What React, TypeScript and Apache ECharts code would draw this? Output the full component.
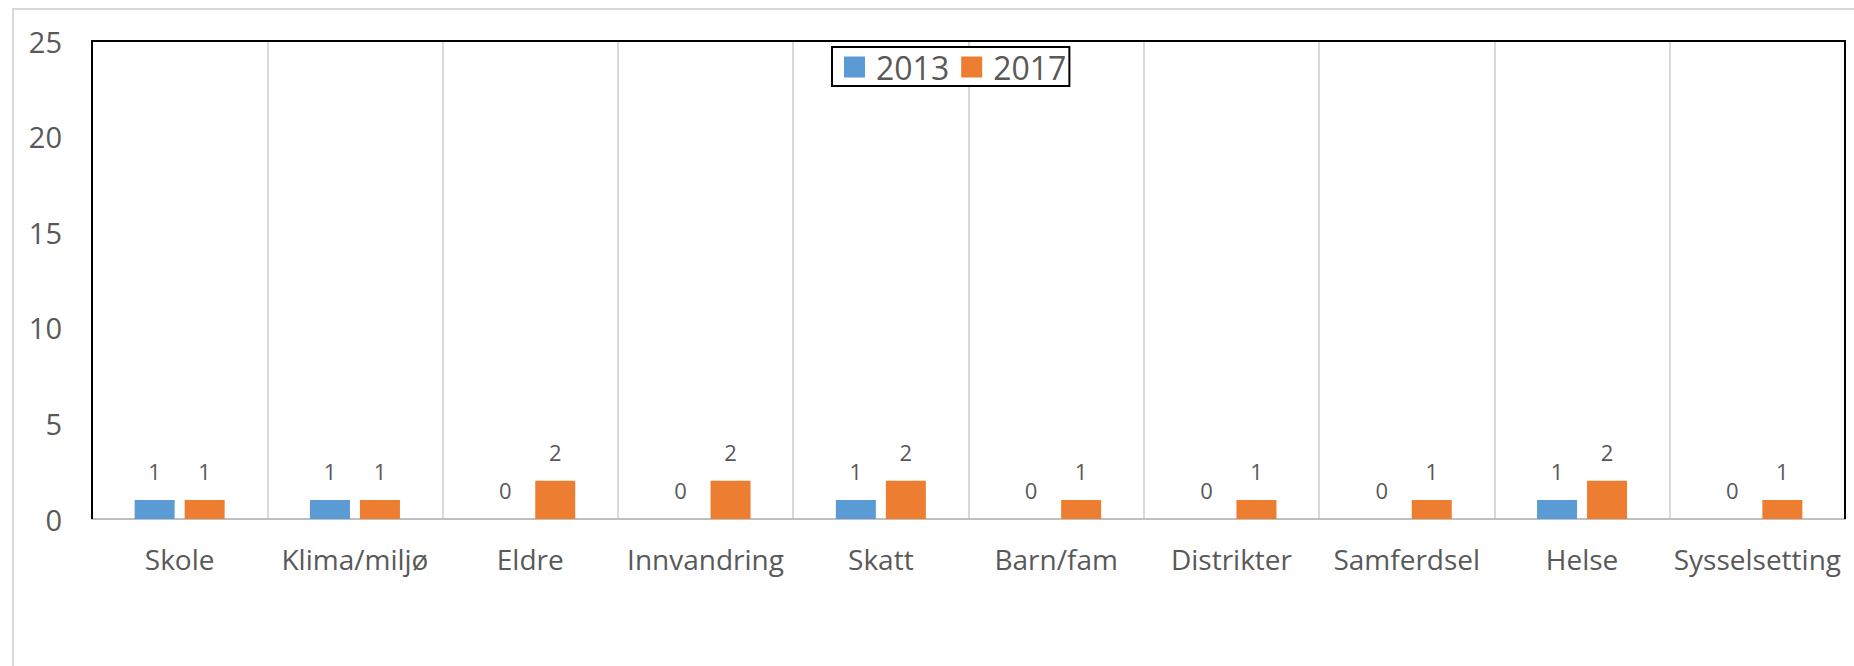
import React, { useEffect, useRef } from "react";
import * as echarts from "echarts";

const categories = ["Skole", "Klima/miljø", "Eldre", "Innvandring", "Skatt", "Barn/fam", "Distrikter", "Samferdsel", "Helse", "Sysselsetting"];
const values2013 = [1, 1, 0, 0, 1, 0, 0, 0, 1, 0];
const values2017 = [1, 1, 2, 2, 2, 1, 1, 1, 2, 1];
const seriesNames = ["2013", "2017"];

const FONT = "'Open Sans', sans-serif";
const TEXT = "#595959";
const GRID = { left: 92, top: 41, right: 9, bottom: 147 };
const W = 1854;
const H = 666;

export default function App() {
  const ref = useRef<HTMLDivElement>(null);
  useEffect(() => {
    if (!ref.current) return;
    const chart = echarts.init(ref.current, null, { renderer: "svg" });
    const label = {
      show: true,
      position: "top",
      distance: 18,
      color: TEXT,
      fontSize: 22,
      fontFamily: FONT,
    };
    chart.setOption({
      animation: false,
      backgroundColor: "#fff",
      textStyle: { fontFamily: FONT },
      graphic: [
        {
          type: "rect",
          shape: { x: 13, y: 9, width: 2000, height: 1000 },
          style: { fill: "none", stroke: "#d9d9d9", lineWidth: 2 },
          silent: true,
          z: -10,
        },
        {
          type: "polyline",
          shape: {
            points: [
              [GRID.left, H - GRID.bottom],
              [GRID.left, GRID.top],
              [W - GRID.right, GRID.top],
              [W - GRID.right, H - GRID.bottom],
            ],
          },
          style: { fill: "none", stroke: "#000", lineWidth: 2 },
          silent: true,
          z: 50,
        },
      ],
      grid: { ...GRID, show: false },
      legend: {
        left: 832,
        top: 47,
        padding: [4, 3, 3, 12],
        itemWidth: 21,
        itemHeight: 21,
        itemGap: 12,
        borderColor: "#000",
        borderWidth: 2,
        backgroundColor: "#fff",
        icon: "rect",
        textStyle: { color: TEXT, fontSize: 32, fontFamily: FONT, padding: [0, 0, 0, 6] },
        data: seriesNames,
        z: 60,
      },
      xAxis: {
        type: "category",
        data: categories,
        axisLine: { show: true, lineStyle: { color: "#bfbfbf", width: 2 } },
        axisTick: { show: false },
        axisLabel: { color: TEXT, fontSize: 28, fontFamily: FONT, margin: 26, interval: 0 },
        splitLine: { show: true, lineStyle: { color: "#d9d9d9", width: 2 } },
      },
      yAxis: {
        type: "value",
        min: 0,
        max: 25,
        interval: 5,
        axisLine: { show: false },
        axisTick: { show: false },
        splitLine: { show: false },
        axisLabel: { color: TEXT, fontSize: 29, fontFamily: FONT, margin: 30 },
      },
      series: [
        {
          name: seriesNames[0],
          type: "bar",
          data: values2013,
          barWidth: 40,
          barGap: "25%",
          itemStyle: { color: "#5B9BD5" },
          label,
        },
        {
          name: seriesNames[1],
          type: "bar",
          data: values2017,
          barWidth: 40,
          barGap: "25%",
          itemStyle: { color: "#ED7D31" },
          label,
        },
      ],
    });
    return () => chart.dispose();
  }, []);
  return (
    <div
      ref={ref}
      style={{ position: "absolute", left: 0, top: 0, width: W, height: H }}
    />
  );
}
